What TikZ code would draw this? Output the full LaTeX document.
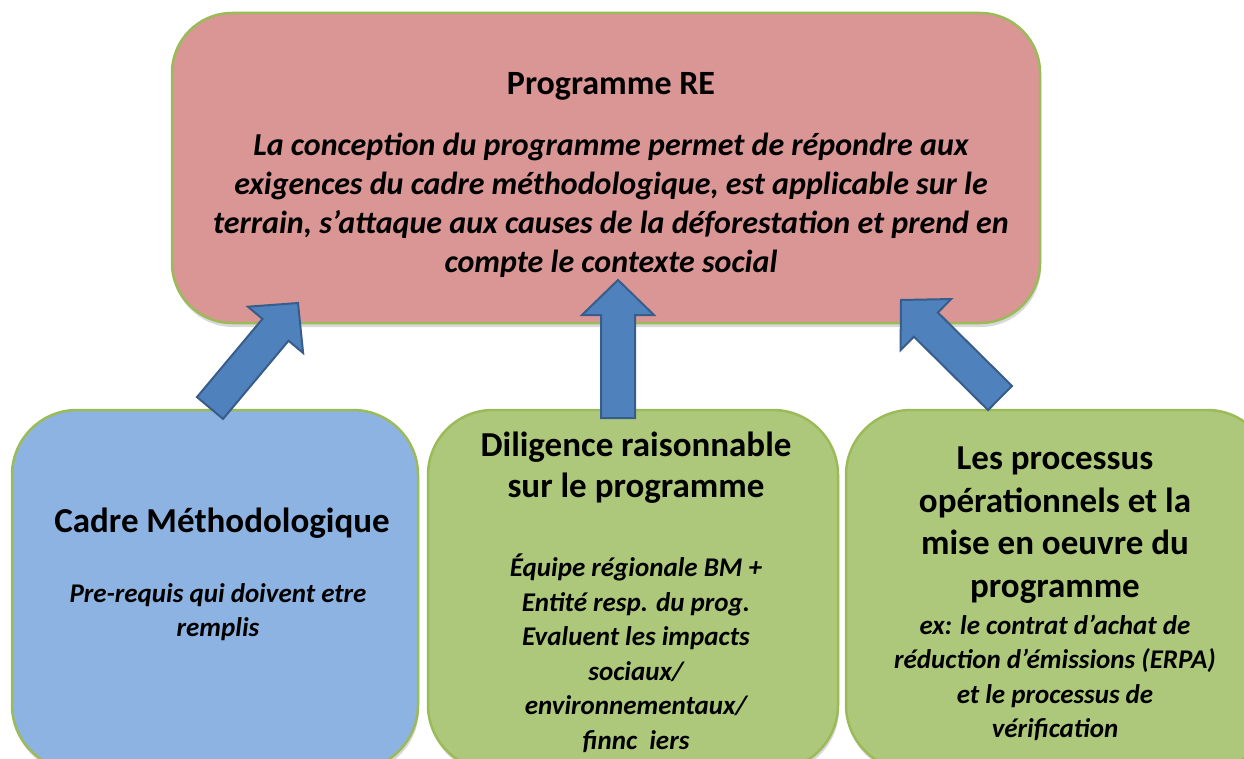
\documentclass[tikz,border=0pt]{standalone}
\usepackage{fontspec}
\setmainfont{Carlito}
\usetikzlibrary{shadows,calc}
\definecolor{pinkfill}{HTML}{D99694}
\definecolor{greenline}{HTML}{9BBB59}
\definecolor{bluefill}{HTML}{8DB3E2}
\definecolor{greenfill}{HTML}{ADC87B}
\definecolor{arrowfill}{HTML}{4F81BD}
\definecolor{arrowline}{HTML}{385D8A}
\newcommand\blockarrow[2]{%
  \path ($(#2)!35pt!(#1)$) coordinate (ba-H);
  \filldraw[arrowstyle] ($(#1)!17pt!90:(#2)$) -- ($(ba-H)!17pt!-90:(#1)$) -- ($(ba-H)!36pt!-90:(#1)$) -- (#2) -- ($(ba-H)!36pt!90:(#1)$) -- ($(ba-H)!17pt!90:(#1)$) -- ($(#1)!17pt!-90:(#2)$) -- cycle;}
\begin{document}
\begin{tikzpicture}[x=1pt,y=-1pt,
  boxstyle/.style={draw=greenline, line width=2.5pt, inner sep=0pt,
    drop shadow={opacity=0.3, shadow xshift=1pt, shadow yshift=-4pt}},
  arrowstyle/.style={fill=arrowfill, draw=arrowline, line width=2pt, line join=miter},
  titletext/.style={font=\fontsize{35}{42}\selectfont\bfseries, align=center, inner sep=0pt},
  bodytext/.style={font=\fontsize{27}{34.5}\selectfont\bfseries\itshape, align=center, inner sep=0pt},
  topbody/.style={font=\fontsize{32}{39}\selectfont\bfseries\itshape, align=center, inner sep=0pt}]
\useasboundingbox (0,0) rectangle (1244,759);
\clip (0,0) rectangle (1244,759);
\fill[white] (0,0) rectangle (1244,759);
% boxes
\node[boxstyle, fill=pinkfill, rounded corners=60pt, minimum width=868pt, minimum height=310pt] (top) at (606,168) {};
\node[boxstyle, fill=bluefill, rounded corners=65pt, minimum width=406pt, minimum height=360pt] (left) at (215,590) {};
\node[boxstyle, fill=greenfill, rounded corners=65pt, minimum width=410pt, minimum height=360pt] (mid) at (633,590) {};
\node[boxstyle, fill=greenfill, rounded corners=65pt, minimum width=426pt, minimum height=360pt] (right) at (1059,590) {};
% texts
\node[titletext, font=\fontsize{34}{42}\selectfont\bfseries] (toptitle) at (611,86) {Programme RE};
\node[topbody] (topdesc) at (611,205) {La conception du programme permet de répondre aux\\exigences du cadre méthodologique, est applicable sur le\\terrain, s’attaque aux causes de la déforestation et prend en\\compte le contexte social};
\node[titletext] (lefttitle) at (222,523) {Cadre Méthodologique};
\node[bodytext] (leftdesc) at (218,612) {Pre-requis qui doivent etre\\remplis};
\node[titletext, font=\fontsize{35}{41}\selectfont\bfseries] (midtitle) at (636,468) {Diligence raisonnable\\sur le programme};
\node[bodytext] (middesc) at (636,653) {Équipe régionale BM +\\Entité resp. du prog.\\Evaluent les impacts\\sociaux/\\environnementaux/\\finnc~~iers};
\node[titletext, font=\fontsize{35}{42.7}\selectfont\bfseries] (righttitle) at (1055,525) {Les processus\\opérationnels et la\\mise en oeuvre du\\programme};
\node[bodytext] (rightdesc) at (1055,678) {ex: le contrat d’achat de\\réduction d’émissions (ERPA)\\et le processus de\\vérification};
% arrows
\coordinate (la-tail) at (210,408);
\coordinate (la-tip) at (298,303);
\coordinate (ma-tail) at (618,418);
\coordinate (ma-tip) at (618,280);
\coordinate (ra-tail) at (1000,398);
\coordinate (ra-tip) at (901,300);
\blockarrow{la-tail}{la-tip}
\blockarrow{ma-tail}{ma-tip}
\blockarrow{ra-tail}{ra-tip}
\end{tikzpicture}
\end{document}
